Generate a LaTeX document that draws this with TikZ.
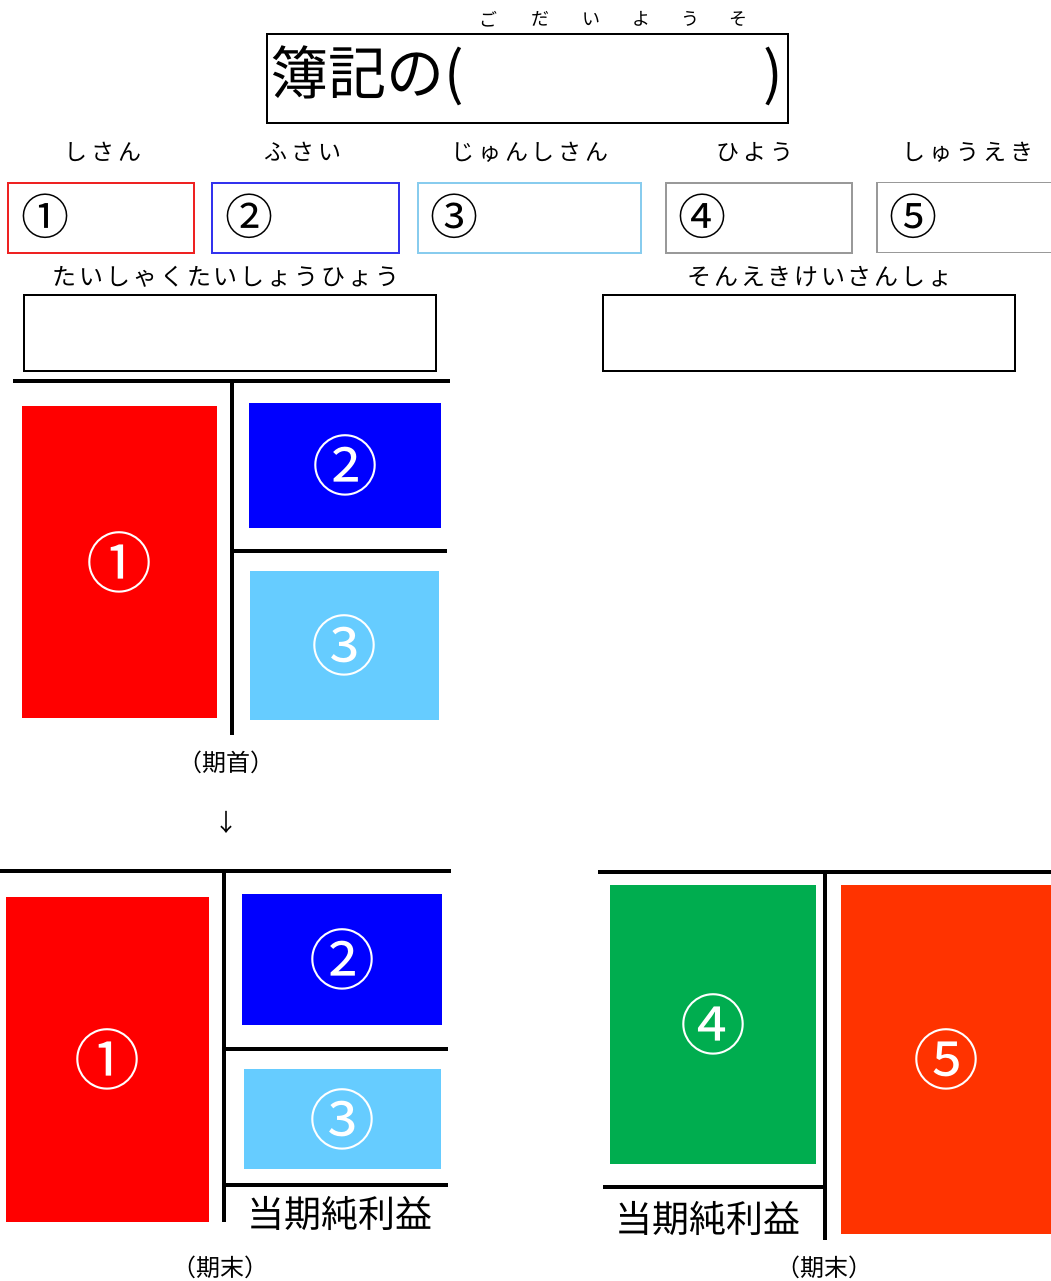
\documentclass[tikz,border=0pt]{standalone}
\usepackage{fontspec}
\setmainfont{Noto Sans CJK JP}
\begin{document}
\begin{tikzpicture}[x=1pt,y=-1pt,
  txt/.style={inner sep=0pt, anchor=center},
  hdr/.style={txt, font=\fontsize{23}{23}\selectfont},
  boxlbl/.style={txt, font=\fontsize{48}{48}\selectfont},
  ansbox/.style={draw, line width=1.2pt, minimum width=#1, minimum height=70pt, inner sep=0pt},
  sheet/.style={draw, black, line width=2pt, minimum width=412pt, minimum height=76pt, inner sep=0pt},
  blk/.style={inner sep=0pt, text=white, font=\fontsize{66}{66}\selectfont},
  thick1/.style={line width=4pt, line cap=rect},
  thick2/.style={line width=3.2pt},
  small/.style={txt, font=\fontsize{24}{24}\selectfont},
  sheetlbl/.style={txt, font=\fontsize{24}{24}\selectfont\addfontfeature{LetterSpace=12}},
  big/.style={txt, font=\fontsize{37}{37}\selectfont}
]
\definecolor{cRed}{HTML}{FF0000}
\definecolor{cBlue}{HTML}{0000FF}
\definecolor{cLBlue}{HTML}{66CCFF}
\definecolor{cGreen}{HTML}{00AD4F}
\definecolor{cOrange}{HTML}{FF3300}
\definecolor{bRed}{HTML}{EE2222}
\definecolor{bBlue}{HTML}{3333EE}
\definecolor{bLBlue}{HTML}{88CCEE}
\definecolor{bGray}{HTML}{999999}
\useasboundingbox[fill=white] (0,0) rectangle (1051,1281);

% title
\node[draw, line width=2pt, minimum width=521pt, minimum height=89pt, inner sep=0pt] (title) at (527.5,78.5) {};
\node[inner sep=0pt, anchor=west, font=\fontsize{58}{58}\selectfont] (t1) at (270,76) {簿記の(};
\node[txt, font=\fontsize{58}{58}\selectfont] (t2) at (773,76) {)};
\foreach \c/\x in {ご/488, だ/540, い/591, よ/641, う/690, そ/738}
  \node[txt, font=\fontsize{18}{18}\selectfont] at (\x,19) {\c};

% headers
\node[hdr] (h1) at (103,152) {し\,さ\,ん};
\node[hdr] (h2) at (303,152) {ふ\,さ\,い};
\node[hdr] (h3) at (530,152) {じ\,ゅ\,ん\,し\,さ\,ん};
\node[hdr] (h4) at (755,152) {ひ\,よ\,う};
\node[hdr] (h5) at (968,152) {し\,ゅ\,う\,え\,き};

% answer boxes
\node[ansbox=186pt, draw=bRed] (b1) at (101,218) {};
\node[ansbox=187pt, draw=bBlue] (b2) at (305.5,218) {};
\node[ansbox=223pt, draw=bLBlue] (b3) at (529.5,218) {};
\node[ansbox=186pt, draw=bGray] (b4) at (759,218) {};
\node[ansbox=186pt, draw=bGray] (b5) at (970,217.5) {};
\node[boxlbl] at (45,216) {①};
\node[boxlbl] at (249,216) {②};
\node[boxlbl] at (454,216) {③};
\node[boxlbl] at (702,216) {④};
\node[boxlbl] at (913,216) {⑤};

% statements
\node[sheetlbl] (bsl) at (226,277) {たいしゃくたいしょうひょう};
\node[sheet] (bs) at (230,333) {};
\node[sheetlbl] (pll) at (820,277) {そんえきけいさんしょ};
\node[sheet] (pl) at (809,333) {};

% upper T-account
\draw[thick1] (15,381) -- (448,381);
\draw[thick2] (232,381) -- (232,735);
\draw[thick2] (232,551) -- (447,551);
\node[blk, fill=cRed, minimum width=195pt, minimum height=312pt] (u1) at (119.5,562) {①};
\node[blk, fill=cBlue, minimum width=192pt, minimum height=125pt] (u2) at (345,465.5) {②};
\node[blk, fill=cLBlue, minimum width=189pt, minimum height=149pt] (u3) at (344.5,645.5) {③};
\node[small] (kishu) at (226,762) {（期首）};
\node[small] (arr) at (226,822) {↓};

% lower left T-account
\draw[thick1] (0,871) -- (449,871);
\draw[thick2] (224,871) -- (224,1222);
\draw[thick2] (224,1049) -- (448,1049);
\draw[thick2] (224,1185) -- (448,1185);
\node[blk, fill=cRed, minimum width=203pt, minimum height=325pt] (l1) at (107.5,1059.5) {①};
\node[blk, fill=cBlue, minimum width=200pt, minimum height=131pt] (l2) at (342,959.5) {②};
\node[blk, fill=cLBlue, minimum width=197pt, minimum height=100pt] (l3) at (342.5,1119) {③};
\node[big] (ni1) at (340,1213) {当期純利益};
\node[small] (kimatsu1) at (220,1267) {（期末）};

% lower right T-account
\draw[thick1] (600,872) -- (1051,872);
\draw[thick2] (825,872) -- (825,1240);
\draw[thick2] (603,1187) -- (825,1187);
\node[blk, fill=cGreen, minimum width=206pt, minimum height=279pt] (r4) at (713,1024.5) {④};
\node[blk, fill=cOrange, minimum width=210pt, minimum height=349pt] (r5) at (946,1059.5) {⑤};
\node[big] (ni2) at (708,1218) {当期純利益};
\node[small] (kimatsu2) at (824,1267) {（期末）};
\end{tikzpicture}
\end{document}
